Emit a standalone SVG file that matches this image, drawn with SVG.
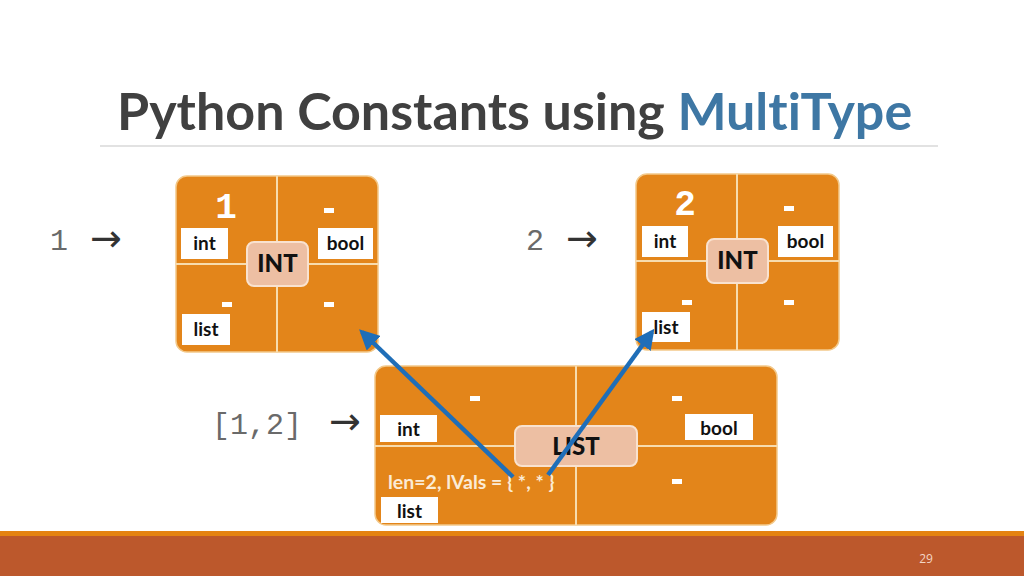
<svg xmlns="http://www.w3.org/2000/svg" width="1024" height="576" viewBox="0 0 1024 576">
<defs>
<style>
text{font-variant-ligatures:none}
.box{fill:#E3851A;stroke:#f3c98a;stroke-width:1.5}
.div{stroke:#f7dcae;stroke-width:2}
.tag{fill:#ffffff}
.tagt{font-family:Lato,"Open Sans",sans-serif;font-weight:700;font-size:19px;fill:#111;text-anchor:middle}
.kind{fill:#EDBFA3;stroke:#f9e2cf;stroke-width:2}
.kindt{font-family:Lato,"Open Sans",sans-serif;font-weight:900;font-size:24px;fill:#111;text-anchor:middle}
.dash{fill:#ffffff}
.num{font-family:"Liberation Mono",monospace;font-weight:700;font-size:36px;fill:#ffffff;text-anchor:middle}
.src{font-family:"Liberation Mono","Courier New",monospace;font-size:30px;fill:#6a6a6a}
.arr{font-family:"DejaVu Sans",sans-serif;font-size:38px;fill:#333333}
.conn{stroke:#1F6EB8;stroke-width:4.5;fill:none}
</style>
<marker id="ah" viewBox="0 0 10 10" refX="8" refY="5" markerWidth="4.5" markerHeight="4.5" orient="auto" markerUnits="strokeWidth">
<path d="M0,0 L10,5 L0,10 z" fill="#1F6EB8"/>
</marker>
</defs>
<rect width="1024" height="576" fill="#ffffff"/>
<g id="title">
<text x="117" y="130" font-family="Lato,'Open Sans',sans-serif" font-weight="700" font-size="52" fill="#404040">Python Constants using <tspan fill="#3E77A4">MultiType</tspan></text>
<line x1="100" y1="146" x2="938" y2="146" stroke="#d9d9d9" stroke-width="1.5"/>
</g>
<g id="src-1">
<text class="src" x="50" y="250">1</text>
<text class="arr" x="90" y="251">→</text>
</g>
<g id="src-2">
<text class="src" x="526" y="250">2</text>
<text class="arr" x="566" y="251">→</text>
</g>
<g id="src-list">
<text class="src" x="212" y="434">[1,2]</text>
<text class="arr" x="329" y="434">→</text>
</g>
<g id="node-int1">
<rect class="box" x="176" y="176" width="202" height="176" rx="11"/>
<line class="div" x1="277" y1="176" x2="277" y2="352"/>
<line class="div" x1="176" y1="264" x2="378" y2="264"/>
<text class="num" x="226" y="218">1</text>
<rect class="dash" x="324" y="208" width="10" height="5"/>
<rect class="dash" x="222" y="302" width="10" height="5"/>
<rect class="dash" x="324" y="302" width="10" height="5"/>
<rect class="tag" x="181" y="228" width="47" height="31"/>
<text class="tagt" x="204.5" y="250">int</text>
<rect class="tag" x="318" y="228" width="55" height="31"/>
<text class="tagt" x="345.5" y="250">bool</text>
<rect class="tag" x="182" y="314" width="48" height="31"/>
<text class="tagt" x="206" y="336">list</text>
<rect class="kind" x="247" y="242" width="61" height="44" rx="7"/>
<text class="kindt" x="277.5" y="272">INT</text>
</g>
<g id="node-int2">
<rect class="box" x="636" y="174" width="203" height="176" rx="11"/>
<line class="div" x1="737" y1="174" x2="737" y2="350"/>
<line class="div" x1="636" y1="261" x2="839" y2="261"/>
<text class="num" x="685" y="215">2</text>
<rect class="dash" x="784" y="206" width="10" height="5"/>
<rect class="dash" x="682" y="300" width="10" height="5"/>
<rect class="dash" x="784" y="300" width="10" height="5"/>
<rect class="tag" x="642" y="226" width="46" height="31"/>
<text class="tagt" x="665" y="248">int</text>
<rect class="tag" x="778" y="226" width="55" height="31"/>
<text class="tagt" x="805.5" y="248">bool</text>
<rect class="tag" x="642" y="312" width="48" height="30"/>
<text class="tagt" x="666" y="334">list</text>
<rect class="kind" x="707" y="239" width="61" height="44" rx="7"/>
<text class="kindt" x="737.5" y="269">INT</text>
</g>
<g id="node-list">
<rect class="box" x="375" y="366" width="402" height="159" rx="11"/>
<line class="div" x1="576" y1="366" x2="576" y2="525"/>
<line class="div" x1="375" y1="446" x2="777" y2="446"/>
<rect class="dash" x="470" y="396" width="10" height="5"/>
<rect class="dash" x="672" y="396" width="10" height="5"/>
<rect class="dash" x="672" y="479" width="10" height="5"/>
<rect class="tag" x="380" y="415" width="57" height="27"/>
<text class="tagt" x="408.5" y="436">int</text>
<rect class="tag" x="685" y="414" width="68" height="26"/>
<text class="tagt" x="719" y="435">bool</text>
<rect class="tag" x="381" y="497" width="57" height="26"/>
<text class="tagt" x="409.5" y="518">list</text>
<rect class="kind" x="515" y="426" width="122" height="40" rx="7"/>
<text class="kindt" x="576" y="455">LIST</text>
<text x="388" y="489" font-family="Lato,'Open Sans',sans-serif" font-weight="700" font-size="19.5" fill="#FBEBD6">len=2, lVals = { *, * }</text>
</g>
<g id="connectors">
<line class="conn" x1="513" y1="477" x2="362" y2="332" marker-end="url(#ah)"/>
<line class="conn" x1="548" y1="475" x2="652" y2="332" marker-end="url(#ah)"/>
</g>
<g id="footer">
<rect x="0" y="531" width="1024" height="5" fill="#E48312"/>
<rect x="0" y="536" width="1024" height="40" fill="#BC582C"/>
<text x="926" y="563" font-family="'Open Sans',sans-serif" font-size="12" fill="#f3d6c6" text-anchor="middle">29</text>
</g>
</svg>
